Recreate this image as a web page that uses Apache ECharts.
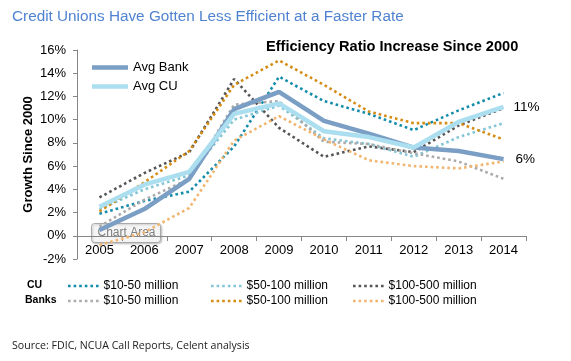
<!DOCTYPE html>
<html><head><meta charset="utf-8">
<script src="https://cdn.jsdelivr.net/npm/echarts@6/dist/echarts.min.js"></script>
<style>html,body{margin:0;padding:0;background:#fff}#c{width:571px;height:361px}</style>
</head><body><div id="c"></div>
<script>
var years = ['2005','2006','2007','2008','2009','2010','2011','2012','2013','2014'];
var avgBank   = [0.5, 2.3, 4.9, 10.9, 12.4, 9.9, 8.8, 7.6, 7.3, 6.6];
var avgCU     = [2.5, 4.4, 5.5, 10.5, 11.4, 9.0, 8.5, 7.6, 9.8, 11.1];
var cu10_50   = [1.9, 3.0, 3.8, 7.7, 13.7, 11.6, 10.5, 9.1, 10.8, 12.3];
var cu50_100  = [2.3, 4.0, 5.2, 10.0, 11.2, 8.4, 7.9, 6.8, 8.5, 9.7];
var cu100_500 = [3.3, 5.4, 7.2, 13.5, 9.3, 6.8, 7.7, 7.2, 9.5, 11.0];
var bk10_50   = [0.8, 3.1, 4.9, 11.3, 11.6, 8.1, 7.9, 7.1, 6.4, 4.9];
var bk50_100  = [2.1, 4.6, 7.3, 13.0, 15.1, 13.0, 10.7, 9.7, 9.7, 8.3];
var bk100_500 = [-0.8, 0.3, 2.4, 8.2, 10.3, 8.3, 6.5, 6.0, 5.8, 6.4];
var endLabels = {bank: '6%', cu: '11%'};
var yTicks = {min: -2, max: 16, step: 2};

var F = "'Liberation Sans', Arial, sans-serif";
var chart = echarts.init(document.getElementById('c'), null, {renderer: 'canvas'});

var DOT = 2.6, GAP = 3.0;
function dotted(name, data, color) {
  return {
    name: name, type: 'line', data: data, symbol: 'none', smooth: false,
    lineStyle: {color: color, width: DOT, type: [DOT, GAP], cap: 'butt'},
    itemStyle: {color: color}, z: 2, silent: true
  };
}
// legend icon: six square dots
var dotPath = 'path://';
for (var k = 0; k < 6; k++) {
  var x0 = k * (DOT + GAP);
  dotPath += 'M' + x0 + ',0h' + DOT + 'v' + DOT + 'h-' + DOT + 'z';
}
var dotW = 6 * DOT + 5 * GAP;

var cuNames = ['CU $10-50 million', 'CU $50-100 million', 'CU $100-500 million'];
var bkNames = ['Banks $10-50 million', 'Banks $50-100 million', 'Banks $100-500 million'];
var colCU = ['#138cac', '#84c6d6', '#555555'];
var colBK = ['#ababab', '#d48c12', '#f2b570'];

var series = [
  dotted(cuNames[0], cu10_50, colCU[0]),
  dotted(cuNames[1], cu50_100, colCU[1]),
  dotted(cuNames[2], cu100_500, colCU[2]),
  dotted(bkNames[0], bk10_50, colBK[0]),
  dotted(bkNames[1], bk50_100, colBK[1]),
  dotted(bkNames[2], bk100_500, colBK[2]),
  {name: 'Avg Bank', type: 'line', data: avgBank, symbol: 'none', z: 3, silent: true,
   lineStyle: {color: '#7a9ec4', width: 4.5}, itemStyle: {color: '#7a9ec4'},
   endLabel: {show: true, formatter: endLabels.bank, distance: 12, color: '#000', fontFamily: F, fontSize: 13.5}},
  {name: 'Avg CU', type: 'line', data: avgCU, symbol: 'none', z: 4, silent: true,
   lineStyle: {color: '#abdeef', width: 4.5}, itemStyle: {color: '#abdeef'},
   endLabel: {show: true, formatter: endLabels.cu, distance: 10, color: '#000', fontFamily: F, fontSize: 13.5}}
];

var strip = function (n) { return n.replace(/^(CU|Banks) /, ''); };
var legendCols = [68, 211, 353];
var legends = [{
  data: [{name: 'Avg Bank', icon: 'rect'}, {name: 'Avg CU', icon: 'rect'}],
  orient: 'vertical', left: 92, top: 60, padding: 0,
  itemWidth: 36, itemHeight: 4.5, itemGap: 4,
  textStyle: {fontFamily: F, fontSize: 13, color: '#000', lineHeight: 15},
  selectedMode: false
}];
for (var i = 0; i < 3; i++) {
  legends.push({data: [{name: cuNames[i], icon: dotPath}], left: legendCols[i], top: 279, padding: 0,
    itemWidth: dotW, itemHeight: DOT, itemGap: 0,
    formatter: strip, selectedMode: false, textStyle: {fontFamily: F, fontSize: 12, color: '#000', lineHeight: 14}});
  legends.push({data: [{name: bkNames[i], icon: dotPath}], left: legendCols[i], top: 294, padding: 0,
    itemWidth: dotW, itemHeight: DOT, itemGap: 0,
    formatter: strip, selectedMode: false, textStyle: {fontFamily: F, fontSize: 12, color: '#000', lineHeight: 14}});
}

chart.setOption({
  animation: false,
  backgroundColor: '#fff',
  title: [
    {text: 'Credit Unions Have Gotten Less Efficient at a Faster Rate', left: 12, top: 9, padding: 0,
     textStyle: {fontFamily: F, fontSize: 15.3, fontWeight: 'normal', color: '#4f83d1'}},
    {text: 'Efficiency Ratio Increase Since 2000', left: 266, top: 39, padding: 0,
     textStyle: {fontFamily: F, fontSize: 14.6, fontWeight: 'bold', color: '#000'}}
  ],
  legend: legends,
  grid: {left: 77, right: 45, top: 50, bottom: 102, containLabel: false},
  xAxis: {
    type: 'category', data: years, boundaryGap: true, offset: -23,
    axisLine: {onZero: false, lineStyle: {color: '#868686', width: 1}},
    axisTick: {show: true, length: 5, lineStyle: {color: '#868686'}},
    axisLabel: {fontFamily: F, fontSize: 13, color: '#000', margin: 8}
  },
  yAxis: {
    type: 'value', min: yTicks.min, max: yTicks.max, interval: yTicks.step,
    name: 'Growth Since 2000', nameLocation: 'middle', nameGap: 42, nameRotate: 90,
    nameMoveOverlap: false,
    nameTextStyle: {fontFamily: F, fontSize: 13, fontWeight: 'bold', color: '#000'},
    axisLine: {show: true, lineStyle: {color: '#868686'}},
    axisTick: {show: true, length: 4, lineStyle: {color: '#868686'}},
    axisLabel: {fontFamily: F, fontSize: 13, color: '#000', formatter: '{value}%', margin: 11},
    splitLine: {show: false}
  },
  graphic: [
    {type: 'text', left: 27, top: 280, style: {text: 'CU', font: 'bold 10.5px ' + F, fill: '#000'}},
    {type: 'text', left: 25, top: 295, style: {text: 'Banks', font: 'bold 10.5px ' + F, fill: '#000'}},
    {type: 'text', left: 12, top: 340, style: {text: 'Source: FDIC, NCUA Call Reports, Celent analysis', font: "10.6px 'Open Sans', sans-serif", fill: '#222'}},
    {type: 'group', left: 91, top: 223, z: 100, children: [
      {type: 'rect', shape: {x: 0, y: 0, width: 69, height: 19, r: 3},
       style: {fill: 'rgba(255,255,255,0.8)', stroke: '#a9a9a9', lineWidth: 1,
               shadowBlur: 2, shadowColor: 'rgba(0,0,0,0.25)', shadowOffsetX: 1, shadowOffsetY: 1}},
      {type: 'text', x: 6, y: 3.5, style: {text: 'Chart Area', font: '12px ' + F, fill: '#808080'}}
    ]}
  ],
  series: series
});
</script></body></html>
